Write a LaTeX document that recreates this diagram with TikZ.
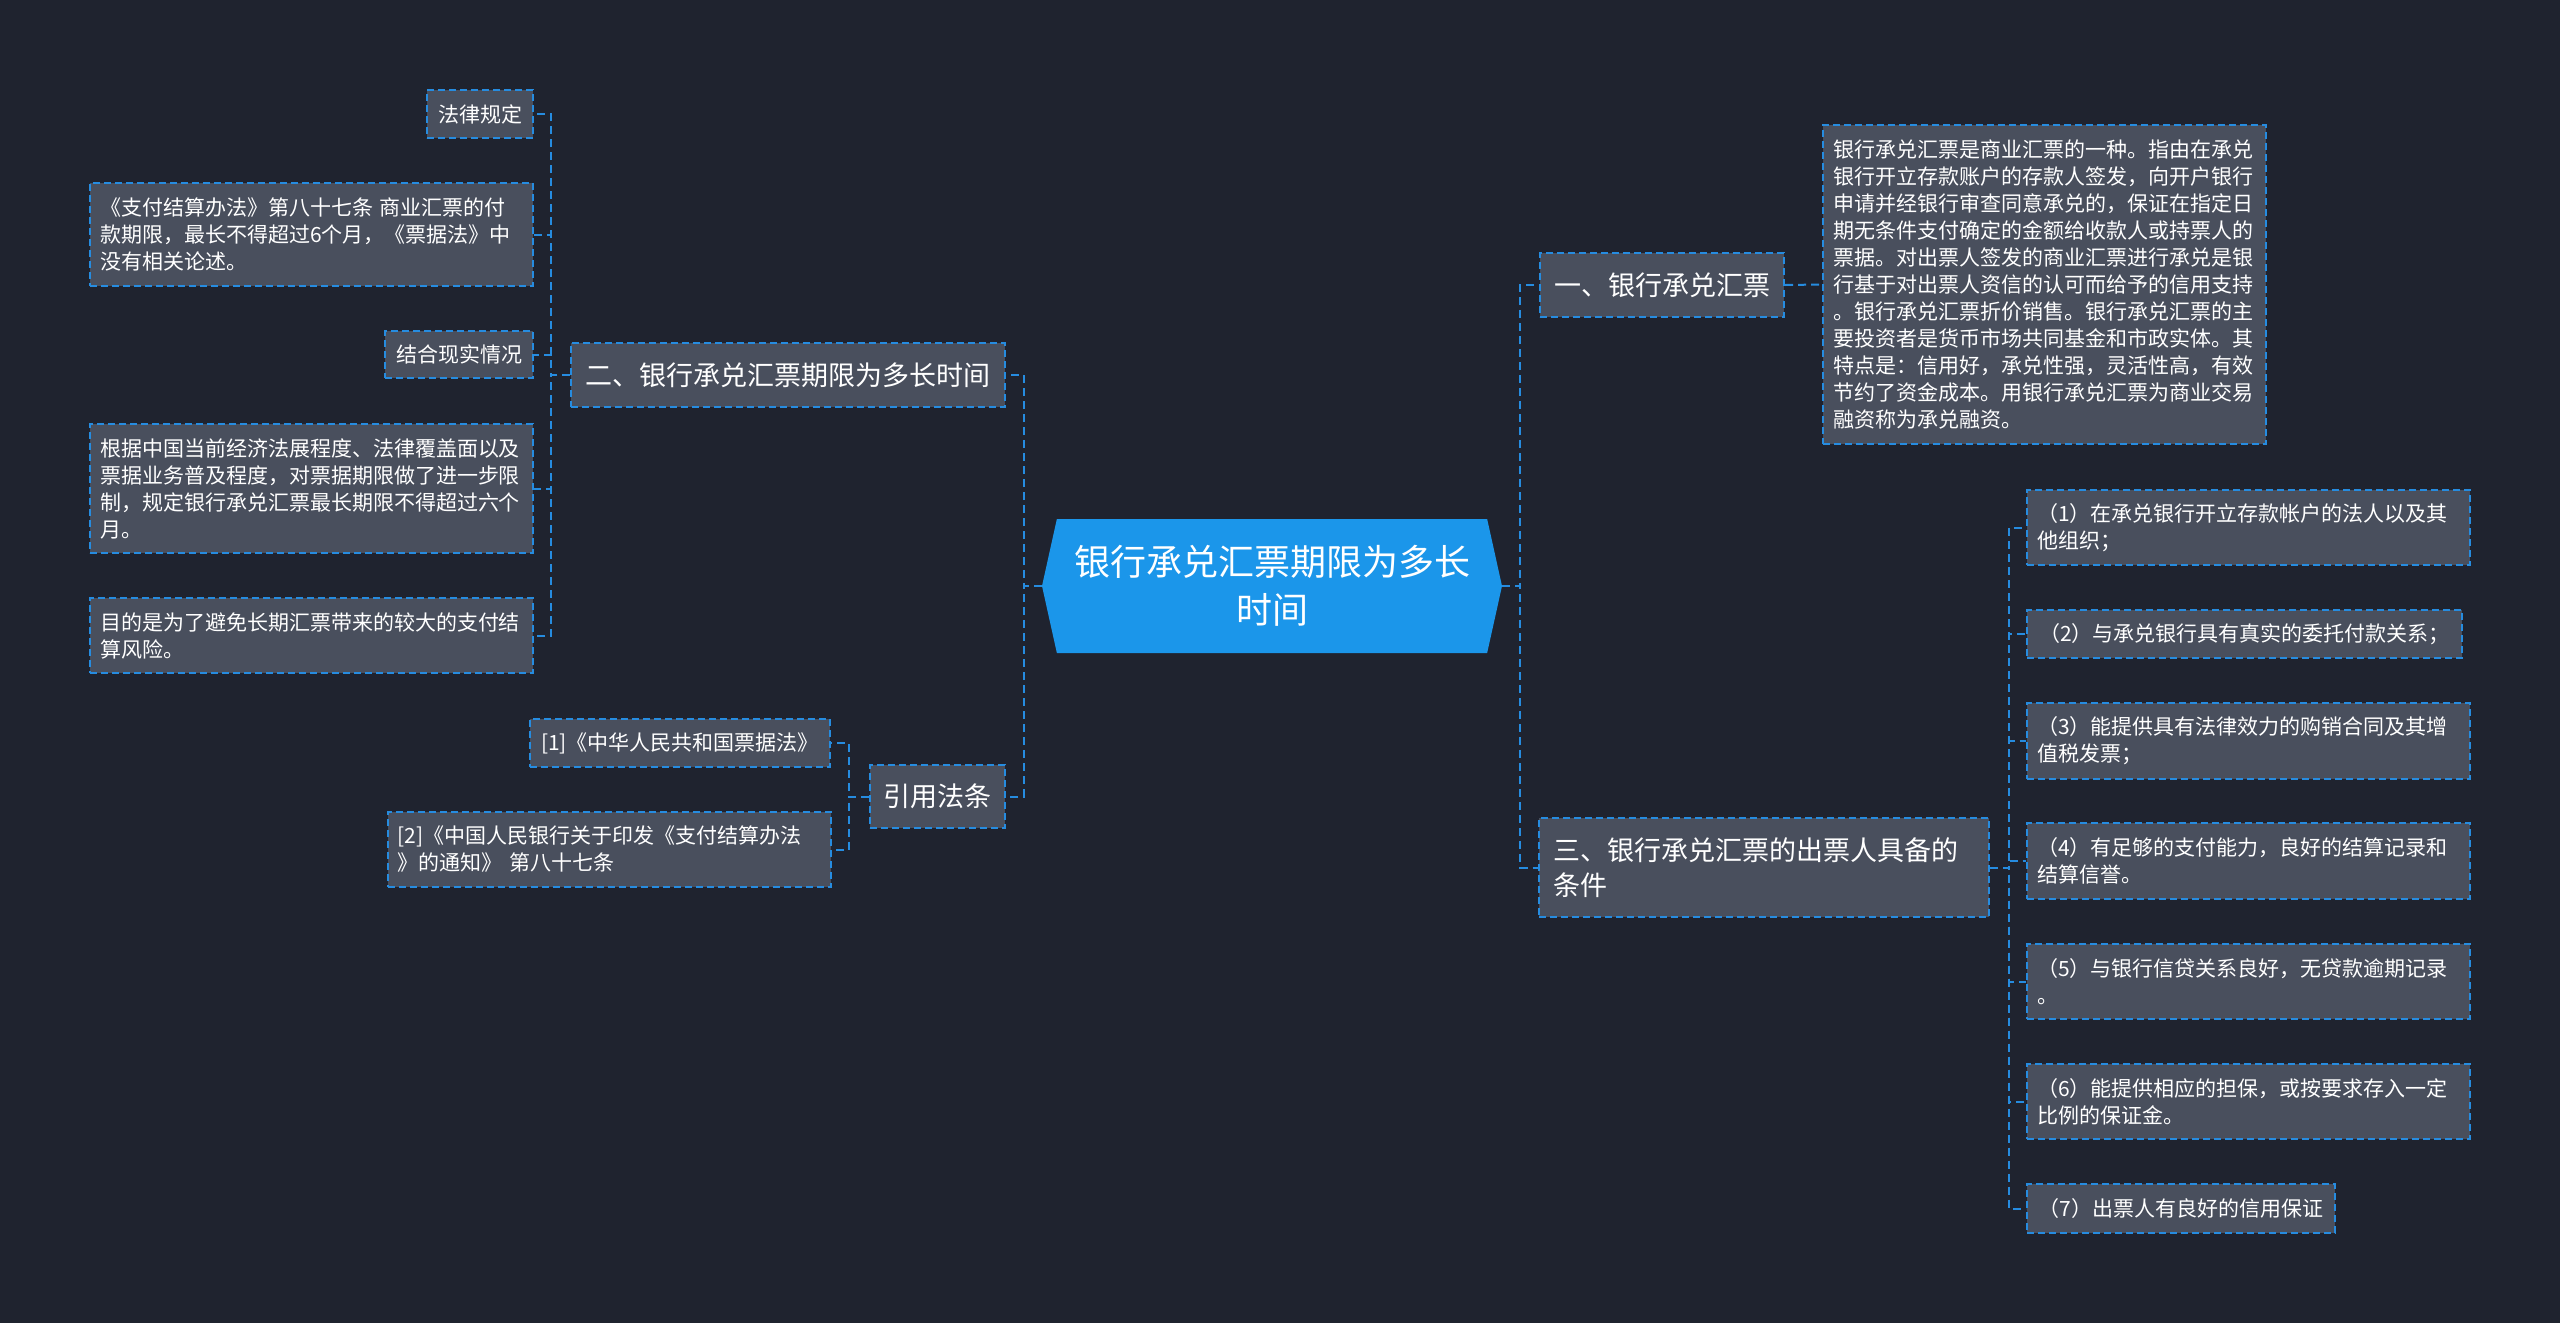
\documentclass[tikz,border=0pt]{standalone}
\usepackage{fontspec}
\setmainfont{Noto Sans CJK SC}
\usetikzlibrary{shapes.symbols}
\definecolor{bgdark}{RGB}{31,35,47}
\definecolor{boxgrey}{RGB}{73,79,93}
\definecolor{linkblue}{RGB}{38,140,224}
\definecolor{rootblue}{RGB}{27,150,234}
\begin{document}
\begin{tikzpicture}[x=1pt,y=-1pt,
every node/.style={text=white,inner sep=0pt},
box/.style={fill=boxgrey,draw=linkblue,line width=2pt,dash pattern=on 7pt off 4pt},
small/.style={box,font=\fontsize{21pt}{27pt}\selectfont},
big/.style={box,font=\fontsize{27pt}{35pt}\selectfont},
wide/.style={align=left,text width=423pt,minimum width=443pt},
link/.style={draw=linkblue,line width=2pt,dash pattern=on 8pt off 5pt}]
\fill[bgdark] (0,0) rectangle (2560,1323);
\useasboundingbox (0,0) rectangle (2560,1323);
\node[shape=signal,signal to=west and east,signal pointer angle=155,fill=rootblue,
minimum width=460pt,minimum height=134pt,align=center,
font=\fontsize{36pt}{48pt}\selectfont] (root) at (1272,586) {银行承兑汇票期限为多长\\时间};
\node[big,minimum width=244pt,minimum height=64pt] (B1) at (1662,285) {一、银行承兑汇票};
\node[small,wide,minimum height=319pt] (D1) at (2044.5,284.5) {银行承兑汇票是商业汇票的一种。指由在承兑\\银行开立存款账户的存款人签发，向开户银行\\申请并经银行审查同意承兑的，保证在指定日\\期无条件支付确定的金额给收款人或持票人的\\票据。对出票人签发的商业汇票进行承兑是银\\行基于对出票人资信的认可而给予的信用支持\\。银行承兑汇票折价销售。银行承兑汇票的主\\要投资者是货币市场共同基金和市政实体。其\\特点是：信用好，承兑性强，灵活性高，有效\\节约了资金成本。用银行承兑汇票为商业交易\\融资称为承兑融资。};
\node[big,align=left,text width=422pt,minimum width=450pt,minimum height=99pt] (B3) at (1764,867.5) {三、银行承兑汇票的出票人具备的\\条件};
\node[small,wide,minimum height=75pt] (S1) at (2248.5,527.5) {（1）在承兑银行开立存款帐户的法人以及其\\他组织；};
\node[small,minimum width=435pt,minimum height=48pt] (S2) at (2244.5,634) {（2）与承兑银行具有真实的委托付款关系；};
\node[small,wide,minimum height=76pt] (S3) at (2248.5,741) {（3）能提供具有法律效力的购销合同及其增\\值税发票；};
\node[small,wide,minimum height=76pt] (S4) at (2248.5,861) {（4）有足够的支付能力，良好的结算记录和\\结算信誉。};
\node[small,wide,minimum height=75pt] (S5) at (2248.5,981.5) {（5）与银行信贷关系良好，无贷款逾期记录\\。};
\node[small,wide,minimum height=75pt] (S6) at (2248.5,1101.5) {（6）能提供相应的担保，或按要求存入一定\\比例的保证金。};
\node[small,minimum width=308pt,minimum height=49pt] (S7) at (2181,1208.5) {（7）出票人有良好的信用保证};
\node[big,minimum width=434pt,minimum height=64pt] (B2) at (788,375) {二、银行承兑汇票期限为多长时间};
\node[small,minimum width=106pt,minimum height=48pt] (L1) at (480,114) {法律规定};
\node[small,wide,minimum height=103pt] (L2) at (311.5,234.5) {《支付结算办法》第八十七条 商业汇票的付\\款期限，最长不得超过6个月，《票据法》中\\没有相关论述。};
\node[small,minimum width=148pt,minimum height=47pt] (L3) at (459,354.5) {结合现实情况};
\node[small,wide,minimum height=129pt] (L4) at (311.5,488.5) {根据中国当前经济法展程度、法律覆盖面以及\\票据业务普及程度，对票据期限做了进一步限\\制，规定银行承兑汇票最长期限不得超过六个\\月。};
\node[small,wide,minimum height=75pt] (L5) at (311.5,635.5) {目的是为了避免长期汇票带来的较大的支付结\\算风险。};
\node[big,minimum width=135pt,minimum height=63pt] (B4) at (937.5,796.5) {引用法条};
\node[small,minimum width=300pt,minimum height=48pt] (R1) at (680,743) {[1]《中华人民共和国票据法》};
\node[small,wide,minimum height=75pt] (R2) at (609,849.5) {[2]《中国人民银行关于印发《支付结算办法\\》的通知》 第八十七条};
\draw[link] (root.east) -- ++(18,0) |- (B1.west);
\draw[link] (root.east) -- ++(18,0) |- (B3.west);
\draw[link] (B1.east) -- (D1.west);
\draw[link] (B3.east) -- ++(19,0) |- (S1.west);
\draw[link] (B3.east) -- ++(19,0) |- (S2.west);
\draw[link] (B3.east) -- ++(19,0) |- (S3.west);
\draw[link] (B3.east) -- ++(19,0) |- (S4.west);
\draw[link] (B3.east) -- ++(19,0) |- (S5.west);
\draw[link] (B3.east) -- ++(19,0) |- (S6.west);
\draw[link] (B3.east) -- ++(19,0) |- (S7.west);
\draw[link] (root.west) -- ++(-18,0) |- (B2.east);
\draw[link] (root.west) -- ++(-18,0) |- (B4.east);
\draw[link] (B2.west) -- ++(-19,0) |- (L1.east);
\draw[link] (B2.west) -- ++(-19,0) |- (L2.east);
\draw[link] (B2.west) -- ++(-19,0) |- (L3.east);
\draw[link] (B2.west) -- ++(-19,0) |- (L4.east);
\draw[link] (B2.west) -- ++(-19,0) |- (L5.east);
\draw[link] (B4.west) -- ++(-20,0) |- (R1.east);
\draw[link] (B4.west) -- ++(-20,0) |- (R2.east);
\end{tikzpicture}
\end{document}
